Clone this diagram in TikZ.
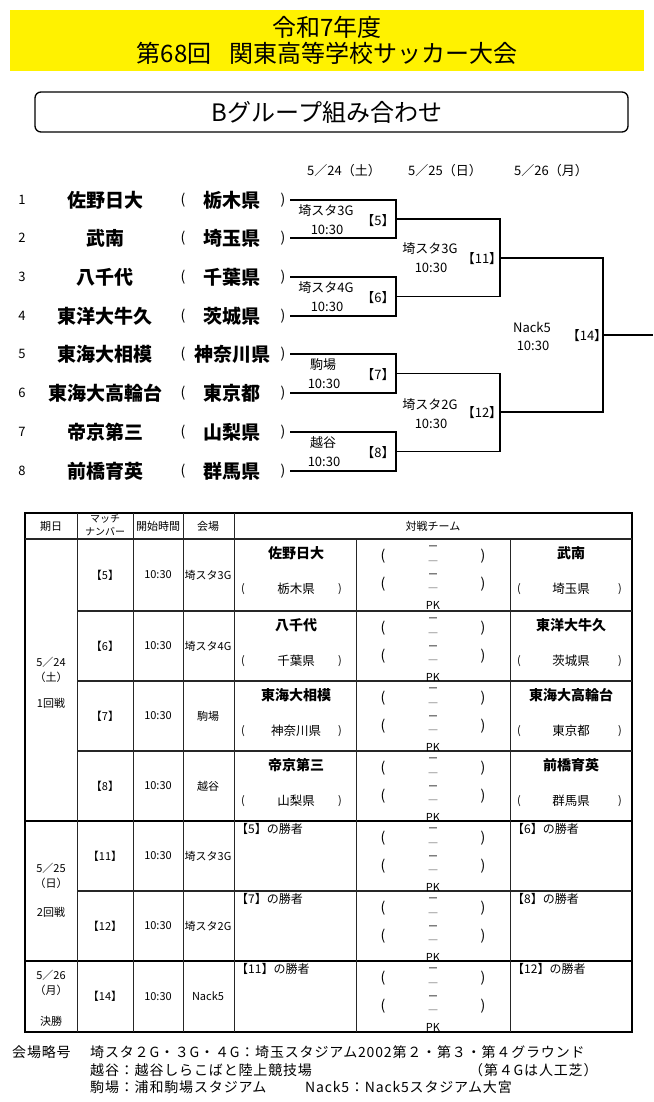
\documentclass[tikz,border=0pt]{standalone}
\usepackage{fontspec}
\setmainfont{Noto Sans CJK JP}
\newfontfamily\footfont[LetterSpace=6]{Noto Sans CJK JP}
\newcommand\fz[1]{\fontsize{#1}{#1}\selectfont}
\begin{document}
\begin{tikzpicture}[x=1pt,y=-1pt,
  txt/.style={inner sep=0pt, anchor=center},
  br/.style={line width=1.8pt},
  tline/.style={line width=1.2pt, black!85},
  vline/.style={line width=0.9pt, black!85}]
\useasboundingbox (0,0) rectangle (653,1102);
% ---------- title
\fill[yellow] (10,10) rectangle (644,71);
\node[txt,font=\fz{24}] (t1) at (327,27) {令和7年度};
\node[txt,font=\fz{24}] (t2) at (327,53) {第68回\hspace{18pt}関東高等学校サッカー大会};
\draw[line width=1.3pt, rounded corners=6pt] (35,92) rectangle (628,132);
\node[txt,font=\fz{24}] (subt) at (327,112) {Bグループ組み合わせ};
% ---------- dates
\node[txt,font=\fz{13}] (d1) at (344,171) {5／24（土）};
\node[txt,font=\fz{13}] (d2) at (445,171) {5／25（日）};
\node[txt,font=\fz{13}] (d3) at (551,171) {5／26（月）};
% ---------- teams
\foreach \i/\y/\team/\pref in {1/200/佐野日大/栃木県, 2/238/武南/埼玉県, 3/277/八千代/千葉県, 4/316/東洋大牛久/茨城県, 5/354/東海大相模/神奈川県, 6/393/東海大高輪台/東京都, 7/432/帝京第三/山梨県, 8/471/前橋育英/群馬県}{
  \node[txt,font=\fz{13}] (num\i) at (22,\y) {\i};
  \node[txt,font=\bfseries\fz{19}] (team\i) at (105,\y) {\team};
  \node[txt,font=\fz{14}] (lp\i) at (183,\y) {(};
  \node[txt,font=\bfseries\fz{19}] (pref\i) at (232,\y) {\pref};
  \node[txt,font=\fz{14}] (rp\i) at (283,\y) {)};
  \coordinate (e\i) at (290,\y);
}
% ---------- bracket
\coordinate (m5) at (396,219);
\coordinate (m6) at (396,296.5);
\coordinate (m7) at (396,373.5);
\coordinate (m8) at (396,451.5);
\coordinate (m11) at (500,258);
\coordinate (m12) at (500,412);
\coordinate (m14) at (603,335);
\coordinate (fin) at (653,335);
\draw[br] (e1) -| (m5) |- (e2);
\draw[br] (e3) -| (m6) |- (e4);
\draw[br] (e5) -| (m7) |- (e6);
\draw[br] (e7) -| (m8) |- (e8);
\draw[br] (m5) -| (m11) |- (m6);
\draw[br] (m7) -| (m12) |- (m8);
\draw[br] (m11) -| (m14) |- (m12);
\draw[br] (m14) -- (fin);
% match labels
\foreach \n/\x/\y/\v/\bx/\by in {5/326/211/埼スタ3G/378/221, 6/326/288/埼スタ4G/378/298, 7/323/365/駒場/378/375, 8/323/443/越谷/378/453, 11/430/249/埼スタ3G/482/259, 12/430/405/埼スタ2G/482/413, 14/532/327/Nack5/587/336}{
  \node[txt,font=\fz{13}] (v\n) at (\x,\y) {\v};
  \node[txt,font=\fz{13}] (tm\n) at (\x+1,\y+19) {10:30};
  \node[txt,font=\fz{13}] (no\n) at (\bx,\by) {【\n】};
}
% ---------- table
\draw[line width=2.2pt] (25,513) rectangle (632,1032);
\draw[tline] (25,539) -- (632,539);
\foreach \yy in {611,681,751,891}{\draw[tline] (77,\yy) -- (632,\yy);}
\foreach \yy in {821,961}{\draw[line width=1.5pt] (25,\yy) -- (632,\yy);}
\foreach \xx in {77,133,183,234}{\draw[vline] (\xx,513) -- (\xx,1032);}
\foreach \xx in {356,510}{\draw[vline] (\xx,539) -- (\xx,1032);}
% header
\node[txt,font=\fz{11}] (h1) at (51,526) {期日};
\node[txt,font=\fz{10}] (h2a) at (105,519) {マッチ};
\node[txt,font=\fz{10}] (h2b) at (105,532) {ナンバー};
\node[txt,font=\fz{11}] (h3) at (158,526) {開始時間};
\node[txt,font=\fz{11}] (h4) at (208,526) {会場};
\node[txt,font=\fz{11}] (h5) at (433,526) {対戦チーム};
% date column
\node[txt,font=\fz{11}] (c1a) at (51,662) {5／24};
\node[txt,font=\fz{11}] (c1b) at (51,677) {（土）};
\node[txt,font=\fz{11}] (c1c) at (51,703) {1回戦};
\node[txt,font=\fz{11}] (c2a) at (51,868) {5／25};
\node[txt,font=\fz{11}] (c2b) at (51,883) {（日）};
\node[txt,font=\fz{11}] (c2c) at (51,912) {2回戦};
\node[txt,font=\fz{11}] (c3a) at (51,975) {5／26};
\node[txt,font=\fz{11}] (c3b) at (51,990) {（月）};
\node[txt,font=\fz{11}] (c3c) at (51,1021) {決勝};
% rows: number, time, venue, scores
\foreach \n/\t/\b/\v in {5/539/611/埼スタ3G, 6/611/681/埼スタ4G, 7/681/751/駒場, 8/751/821/越谷, 11/821/891/埼スタ3G, 12/891/961/埼スタ2G, 14/961/1032/Nack5}{
  \node[txt,font=\fz{11}] (rn\n) at (105,{(\t+\b)/2}) {【\n】};
  \node[txt,font=\fz{11}] (rt\n) at (158,{(\t+\b)/2}) {10:30};
  \node[txt,font=\fz{11}] (rv\n) at (208,{(\t+\b)/2}) {\v};
  \node[txt,font=\fz{14}] (sa\n) at (383,\t+17) {(};
  \node[txt,font=\fz{11}] (sb\n) at (433,\t+9) {－};
  \node[txt,font=\fz{9}] (sc\n) at (433,\t+22) {＿};
  \node[txt,font=\fz{14}] (sd\n) at (483,\t+17) {)};
  \node[txt,font=\fz{14}] (se\n) at (383,\t+45) {(};
  \node[txt,font=\fz{11}] (sf\n) at (433,\t+37) {－};
  \node[txt,font=\fz{9}] (sg\n) at (433,\t+49) {＿};
  \node[txt,font=\fz{14}] (sh\n) at (483,\t+45) {)};
  \node[txt,font=\fz{11}] (pk\n) at (433,\t+66) {PK};
}
% first round teams
\foreach \n/\t/\a/\pa/\b/\pb in {5/539/佐野日大/栃木県/武南/埼玉県, 6/611/八千代/千葉県/東洋大牛久/茨城県, 7/681/東海大相模/神奈川県/東海大高輪台/東京都, 8/751/帝京第三/山梨県/前橋育英/群馬県}{
  \node[txt,font=\bfseries\fz{14}] (ta\n) at (296,\t+14) {\a};
  \node[txt,font=\fz{11}] (pal\n) at (243,\t+50) {(};
  \node[txt,font=\fz{12.5}] (pa\n) at (296,\t+50) {\pa};
  \node[txt,font=\fz{11}] (par\n) at (340,\t+50) {)};
  \node[txt,font=\bfseries\fz{14}] (tb\n) at (571,\t+14) {\b};
  \node[txt,font=\fz{11}] (pbl\n) at (519,\t+50) {(};
  \node[txt,font=\fz{12.5}] (pb\n) at (571,\t+50) {\pb};
  \node[txt,font=\fz{11}] (pbr\n) at (620,\t+50) {)};
}
% later rounds: winners
\foreach \n/\t/\a/\b in {11/821/5/6, 12/891/7/8, 14/961/11/12}{
  \node[txt,anchor=west,font=\fz{12}] (wa\n) at (236,\t+8) {【\a】の勝者};
  \node[txt,anchor=west,font=\fz{12}] (wb\n) at (512,\t+8) {【\b】の勝者};
}
% ---------- footer
\begin{scope}[every node/.style={txt,anchor=west,font=\footfont\fz{14}}]
\node (f0) at (12,1052) {会場略号};
\node (f1) at (90,1052) {埼スタ２G・３G・４G：埼玉スタジアム2002第２・第３・第４グラウンド};
\node (f2) at (90,1070) {越谷：越谷しらこばと陸上競技場};
\node (f3) at (469,1070) {（第４Gは人工芝）};
\node (f4) at (90,1087) {駒場：浦和駒場スタジアム};
\node (f5) at (305,1087) {Nack5：Nack5スタジアム大宮};
\end{scope}
\end{tikzpicture}
\end{document}
